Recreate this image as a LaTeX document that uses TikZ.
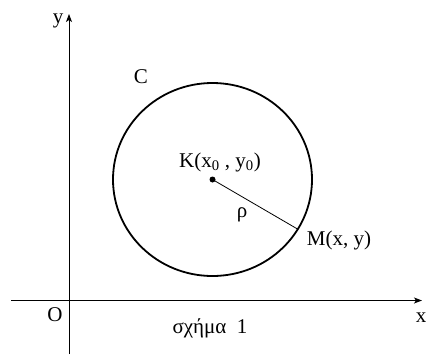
\documentclass[tikz,border=0pt]{standalone}
\usepackage{fontspec}
\setmainfont{Liberation Serif}
\usetikzlibrary{arrows.meta,calc}
\begin{document}
\begin{tikzpicture}[x=1pt,y=-1pt,
  lbl/.style={inner sep=0pt,font=\fontsize{21}{24}\selectfont},
  axis/.style={line width=1pt,-{Stealth[length=8pt,width=6pt,inset=2pt]}},
  curve/.style={line width=1.8pt},
  rad/.style={line width=0.8pt}]
\useasboundingbox (0,0) rectangle (426,354);
\coordinate (xs) at (11,300.5);
\coordinate (xe) at (422,300.5);
\coordinate (ys) at (69,354);
\coordinate (ye) at (69,14);
\draw[axis] (xs) -- (xe);
\draw[axis] (ys) -- (ye);
\coordinate (K) at (212.5,179.5);
\draw[curve] (K) ellipse [x radius=99.5, y radius=96.5];
\coordinate (M) at ($(K)+(85.3,49.7)$);
\draw[rad] (K) -- (M);
\fill (K) circle (3pt);
\node[lbl] (ylab) at (58,21) {y};
\node[lbl] (xlab) at (421,318) {x};
\node[lbl] (olab) at (55,315) {O};
\node[lbl] (clab) at (141,77) {C};
\node[lbl] (klab) at (220,162) {K(x\textsubscript{0} , y\textsubscript{0})};
\node[lbl] (rho) at (242,215) {ρ};
\node[lbl] (mlab) at (339,240) {M(x, y)};
\node[lbl] (cap) at (210,328) {σχήμα\ \ 1};
\end{tikzpicture}
\end{document}
